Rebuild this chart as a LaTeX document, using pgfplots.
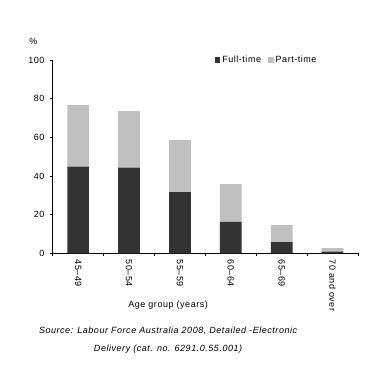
\documentclass[border=0pt]{standalone}
\usepackage{pgfplots}
\pgfplotsset{compat=1.18}
\usepackage{fontspec}
\setmainfont{Liberation Sans}[LetterSpace=6]
\definecolor{ft}{HTML}{333333}
\definecolor{pt}{HTML}{C0C0C0}
\begin{document}
\fontsize{9}{11}\selectfont
\begin{tikzpicture}
\path (-52.7pt,-114.7pt) rectangle (326.3pt,253.3pt);
\begin{axis}[
  at={(0,0)}, anchor=south west,
  scale only axis, width=305.3pt, height=193.3pt,
  ybar stacked, bar width=21.7pt,
  xmin=-0.5, xmax=5.5, ymin=0, ymax=100,
  axis lines=left, axis line style={-, line width=0.6pt},
  ytick={0,20,...,100},
  xtick={0,...,5},
  xticklabels={45--49,50--54,55--59,60--64,65--69,70 and over},
  xticklabel style={rotate=-90, anchor=west, yshift=0pt},
  major x tick style={draw=none},
  minor xtick={-0.5,0.5,...,5.5},
  tick align=outside, major tick length=3pt, minor tick length=3pt,
  tick style={black, line width=0.6pt},
  /pgf/number format/assume math mode=true,
  ticklabel style={font=\fontsize{9}{11}\selectfont},
  yticklabel style={xshift=-2pt},
  legend style={at={(axis cs:2.62,100)}, anchor=west, draw=none, fill=none,
    legend columns=2, font=\fontsize{9}{11}\selectfont,
    /tikz/every even column/.append style={column sep=5pt}},
  legend image code/.code={\fill[#1] (0pt,-2.8pt) rectangle (5.6pt,2.8pt);},
  clip=false,
]
\addplot[fill=ft, draw=none] coordinates {(0,44.8) (1,44.3) (2,31.7) (3,16.2) (4,5.8) (5,0.9)};
\addplot[fill=pt, draw=none] coordinates {(0,31.9) (1,29.3) (2,26.9) (3,19.6) (4,8.8) (5,1.8)};
\legend{Full-time, Part-time}
\node[anchor=center] at (axis cs:-0.88,109.5) {\%};
\node[anchor=center] at ([yshift=-51.7pt]rel axis cs:0.378,0) {Age group (years)};
\node[anchor=center, align=center, font=\fontsize{9}{18.5}\selectfont\itshape] at ([yshift=-87pt]rel axis cs:0.378,0) {Source: Labour Force Australia 2008, Detailed -Electronic\\Delivery (cat. no. 6291.0.55.001)};
\end{axis}
\end{tikzpicture}
\end{document}
